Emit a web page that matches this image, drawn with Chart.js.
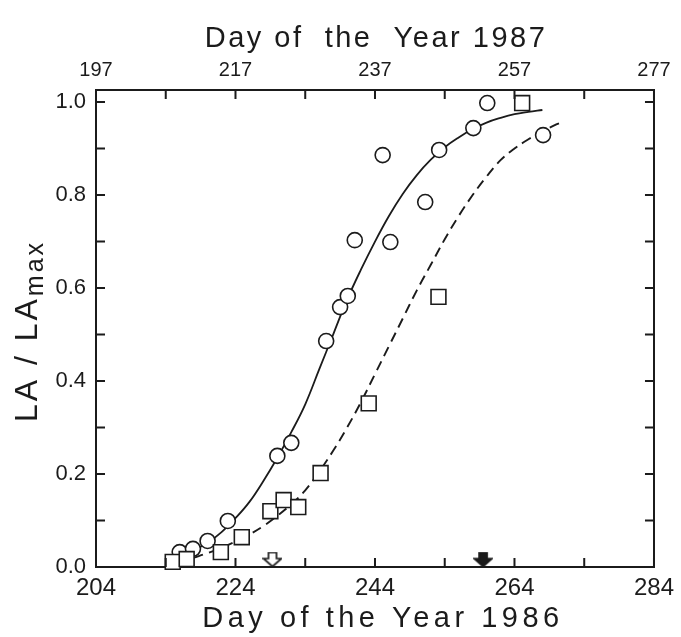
<!DOCTYPE html>
<html>
<head>
<meta charset="utf-8">
<script src="https://cdn.jsdelivr.net/npm/chart.js@4.4.1/dist/chart.umd.min.js"></script>
<style>
  html, body { margin: 0; padding: 0; background: #fff; }
</style>
</head>
<body>
<canvas id="myChart" width="681" height="637"></canvas>
<script>
// circles (solid curve)
const circleDays = [216.0, 217.9, 220.0, 222.9, 230.0, 232.0, 237.0, 239.0, 240.1, 241.1, 245.1, 246.2, 251.2, 253.2, 258.1, 260.1, 268.1]
const circleVals = [0.032, 0.039, 0.056, 0.099, 0.239, 0.267, 0.486, 0.559, 0.583, 0.703, 0.886, 0.699, 0.785, 0.897, 0.944, 0.998, 0.929]

// squares (dashed curve)
const squareDays = [215.0, 217.0, 221.9, 224.9, 229.0, 230.9, 233.0, 236.2, 243.1, 253.1, 265.1]
const squareVals = [0.011, 0.017, 0.032, 0.064, 0.120, 0.144, 0.129, 0.202, 0.352, 0.581, 0.998]

// fitted curves
const solidDays = [216, 218, 220, 222, 224, 226, 228, 230, 232, 234, 236, 238, 240, 242, 244, 246, 248, 250, 252, 254, 256, 258, 260, 262, 264, 266, 268]
const solidVals = [0.025, 0.036, 0.052, 0.075, 0.105, 0.14, 0.185, 0.235, 0.29, 0.35, 0.425, 0.5, 0.575, 0.64, 0.70, 0.755, 0.803, 0.843, 0.876, 0.903, 0.924, 0.942, 0.956, 0.966, 0.974, 0.979, 0.983]

const dashDays = [218, 220, 222, 224, 226, 228, 230, 232, 234, 236, 238, 240, 242, 244, 246, 248, 250, 252, 254, 256, 258, 260, 262, 264, 266, 268, 270, 271]
const dashVals = [0.02, 0.03, 0.042, 0.055, 0.07, 0.088, 0.11, 0.135, 0.165, 0.205, 0.25, 0.30, 0.355, 0.415, 0.475, 0.535, 0.595, 0.65, 0.705, 0.755, 0.80, 0.84, 0.875, 0.9, 0.92, 0.937, 0.952, 0.958]

// arrows on the x axis (open, filled)
const arrowDays = [229.3, 259.5]
const arrowVals = [0.016, 0.016]

const xLabels1986 = [204, 224, 244, 264, 284]
const xLabels1987 = [197, 217, 237, 257, 277]
const yLabels = [0, 0.2, 0.4, 0.6, 0.8, 1.0]

const INK = '#1b1b1b'
const FONT = "'Liberation Sans', Arial, sans-serif"

function pts(xs, ys) {
    return xs.map((x, i) => ({x: x, y: ys[i]}))
}

function makeArrow(filled) {
    const c = document.createElement('canvas')
    c.width = 20
    c.height = 16
    const g = c.getContext('2d')
    g.beginPath()
    g.moveTo(6, 1)
    g.lineTo(14, 1)
    g.lineTo(14, 7)
    g.lineTo(19, 7)
    g.lineTo(10, 15)
    g.lineTo(1, 7)
    g.lineTo(6, 7)
    g.closePath()
    g.fillStyle = filled ? INK : '#fff'
    g.fill()
    g.lineWidth = 1.7
    g.strokeStyle = INK
    g.stroke()
    return c
}
const arrowImgs = [makeArrow(false), makeArrow(true)]

const frame = {
    id: 'frame',
    afterDraw(chart) {
        const {ctx, chartArea: a, scales} = chart
        ctx.save()
        ctx.strokeStyle = INK
        ctx.lineWidth = 2
        ctx.beginPath()
        scales.x.ticks.forEach(t => {
            const px = scales.x.getPixelForValue(t.value)
            ctx.moveTo(px, a.bottom); ctx.lineTo(px, a.bottom - 9)
            ctx.moveTo(px, a.top); ctx.lineTo(px, a.top + 9)
        })
        scales.y.ticks.forEach(t => {
            const py = scales.y.getPixelForValue(t.value)
            ctx.moveTo(a.left, py); ctx.lineTo(a.left + 9, py)
            ctx.moveTo(a.right, py); ctx.lineTo(a.right - 9, py)
        })
        ctx.stroke()

        ctx.fillStyle = INK
        ctx.textAlign = 'center'
        ctx.textBaseline = 'middle'

        // top title
        ctx.font = '29px ' + FONT
        ctx.letterSpacing = '2.5px'
        ctx.fillText('Day of  the  Year 1987', 376, 39)

        // bottom title
        ctx.font = '29px ' + FONT
        ctx.letterSpacing = '4.5px'
        ctx.fillText('Day of the Year 1986', 383, 619)

        // y title with subscript
        ctx.save()
        ctx.translate(25, 331)
        ctx.rotate(-Math.PI / 2)
        ctx.textAlign = 'left'
        ctx.textBaseline = 'alphabetic'
        ctx.font = '32px ' + FONT
        ctx.letterSpacing = '3px'
        const main = 'LA / LA'
        const w1 = ctx.measureText(main).width
        ctx.font = '25px ' + FONT
        const w2 = ctx.measureText('max').width
        const x0 = -(w1 + w2) / 2
        ctx.font = '32px ' + FONT
        ctx.fillText(main, x0, 12)
        ctx.font = '25px ' + FONT
        ctx.fillText('max', x0 + w1, 18)
        ctx.restore()
        ctx.restore()
    }
}

const ctx = document.getElementById('myChart')

const myChart = new Chart(ctx, {
    type: 'scatter',
    data: {
        datasets: [
            {
                label: 'arrows',
                data: pts(arrowDays, arrowVals),
                pointStyle: arrowImgs,
                pointRadius: 8,
                clip: false,
                order: 0
            },
            {
                label: 'squares',
                data: pts(squareDays, squareVals),
                pointStyle: 'rect',
                pointRadius: 10.5,
                borderColor: INK,
                backgroundColor: '#fff',
                borderWidth: 1.6,
                clip: false,
                order: 1
            },
            {
                label: 'circles',
                data: pts(circleDays, circleVals),
                pointStyle: 'circle',
                pointRadius: 7.5,
                borderColor: INK,
                backgroundColor: '#fff',
                borderWidth: 1.6,
                clip: false,
                order: 2
            },
            {
                label: 'solid fit',
                data: pts(solidDays, solidVals),
                showLine: true,
                pointRadius: 0,
                borderColor: INK,
                borderWidth: 1.8,
                tension: 0.4,
                order: 3
            },
            {
                label: 'dashed fit',
                data: pts(dashDays, dashVals),
                showLine: true,
                pointRadius: 0,
                borderColor: INK,
                borderWidth: 1.9,
                borderDash: [10, 6],
                tension: 0.4,
                order: 4
            }
        ]
    },
    options: {
        responsive: false,
        animation: false,
        layout: {padding: 0},
        plugins: {
            legend: {display: false},
            tooltip: {enabled: false}
        },
        scales: {
            x: {
                type: 'linear',
                position: 'bottom',
                min: 204,
                max: 284,
                afterFit: s => { s.height = 70 },
                grid: {display: false, drawTicks: false},
                border: {display: true, color: INK, width: 2},
                ticks: {
                    stepSize: 10,
                    autoSkip: false,
                    maxRotation: 0,
                    padding: 7,
                    color: INK,
                    font: {family: FONT, size: 24, lineHeight: 1.2},
                    callback: v => xLabels1986.includes(v) ? String(v) : ''
                }
            },
            x2: {
                type: 'linear',
                position: 'top',
                min: 197,
                max: 277,
                afterFit: s => { s.height = 90 },
                grid: {display: false, drawTicks: false},
                border: {display: true, color: INK, width: 2},
                ticks: {
                    stepSize: 10,
                    autoSkip: false,
                    maxRotation: 0,
                    padding: 8,
                    color: INK,
                    font: {family: FONT, size: 20, lineHeight: 1.2},
                    callback: v => xLabels1987.includes(v) ? String(v) : ''
                }
            },
            y: {
                type: 'linear',
                position: 'left',
                min: 0,
                max: 1.026,
                afterFit: s => { s.width = 96 },
                grid: {display: false, drawTicks: false},
                border: {display: true, color: INK, width: 2},
                ticks: {
                    stepSize: 0.1,
                    includeBounds: false,
                    padding: 10,
                    color: INK,
                    font: {family: FONT, size: 22, lineHeight: 1.2},
                    callback: v => yLabels.some(l => Math.abs(l - v) < 1e-6) ? v.toFixed(1) : ''
                }
            },
            y2: {
                type: 'linear',
                position: 'right',
                min: 0,
                max: 1.026,
                afterFit: s => { s.width = 26 },
                grid: {display: false, drawTicks: false},
                border: {display: true, color: INK, width: 2},
                ticks: {display: false}
            }
        }
    },
    plugins: [frame]
})
</script>
</body>
</html>
